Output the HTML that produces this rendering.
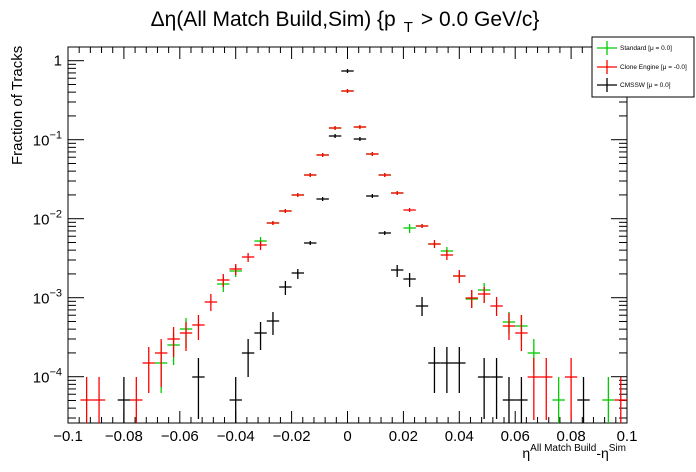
<!DOCTYPE html>
<html><head><meta charset="utf-8"><style>
body{margin:0;background:#fff;}
svg{display:block;font-family:"Liberation Sans",sans-serif;}
</style></head><body>
<svg id="s" width="696" height="472" viewBox="0 0 696 472" xmlns="http://www.w3.org/2000/svg">
<rect width="696" height="472" fill="#fff"/>
<text x="345" y="26" font-size="21" text-anchor="middle">Δη(All Match Build,Sim) {p<tspan font-size="15" dy="6" dx="8">T</tspan><tspan dy="-6" dx="8">&gt; 0.0 GeV/c}</tspan></text>
<text transform="translate(22,165) rotate(-90)" font-size="15">Fraction of Tracks</text>
<text x="626" y="458" font-size="14" text-anchor="end">η<tspan font-size="10" dy="-7">All Match Build</tspan><tspan dy="7">-η</tspan><tspan font-size="10" dy="-7">Sim</tspan></text>
<g id="ax"></g>
<g id="data" stroke-width="1.3"></g>
<rect x="592" y="37" width="102" height="60" fill="#fff" stroke="#000"/>
<g font-size="6.5">
<line x1="597" y1="48" x2="617" y2="48" stroke="#00cc00" stroke-width="1.3"/><line x1="607" y1="41" x2="607" y2="55" stroke="#00cc00" stroke-width="1.3"/>
<text x="620" y="50">Standard  [μ = 0.0]</text>
<line x1="597" y1="67" x2="617" y2="67" stroke="#ff0000" stroke-width="1.3"/><line x1="607" y1="60" x2="607" y2="74" stroke="#ff0000" stroke-width="1.3"/>
<text x="620" y="69">Clone Engine  [μ = -0.0]</text>
<line x1="597" y1="85" x2="617" y2="85" stroke="#000" stroke-width="1.3"/><line x1="607" y1="78" x2="607" y2="92" stroke="#000" stroke-width="1.3"/>
<text x="620" y="87">CMSSW  [μ = 0.0]</text>
</g>
</svg>
<script>
const NS="http://www.w3.org/2000/svg";
const L=68,R=627,T=47,B=423;
function el(p,n,a,t){const e=document.createElementNS(NS,n);for(const k in a)e.setAttribute(k,a[k]);if(t!==undefined)e.textContent=t;p.appendChild(e);return e;}
const ax=document.getElementById('ax');
el(ax,'rect',{x:L,y:T,width:R-L,height:B-T,fill:'none',stroke:'#000','stroke-width':1});
const xp=v=>L+(v+0.1)/0.2*(R-L);
for(let i=0;i<=50;i++){const v=-0.1+i*0.004;const x=xp(v);const maj=i%5==0;const len=maj?12:6;
el(ax,'line',{x1:x,y1:B,x2:x,y2:B-len,stroke:'#000'});el(ax,'line',{x1:x,y1:T,x2:x,y2:T+len,stroke:'#000'});
if(maj){let s=(Math.round(v*100)/100);let txt=s==0?'0':(s<0?'−':'')+Math.abs(s).toFixed(2);if(Math.abs(s)==0.1)txt=(s<0?'−':'')+'0.1';el(ax,'text',{x:x,y:441,'font-size':15,'text-anchor':'middle'},txt);}}
const yp=v=>60.7-79*Math.log10(v);
for(let d=-5;d<=0;d++){for(let m=1;m<=9;m++){const v=m*Math.pow(10,d);const y=yp(v);if(y<T||y>B)continue;const len=m==1?16:8;
el(ax,'line',{x1:L,y1:y,x2:L+len,y2:y,stroke:'#000'});el(ax,'line',{x1:R,y1:y,x2:R-len,y2:y,stroke:'#000'});
if(m==1){if(d==0)el(ax,'text',{x:62,y:y+5,'font-size':15,'text-anchor':'end'},'1');else{const t=el(ax,'text',{x:62,y:y+6,'font-size':15,'text-anchor':'end'},'10');el(t,'tspan',{dy:-7,'font-size':11},String(d).replace('-','−'));}}}}
const bx=k=>L+(k+0.5)*(R-L)/45, hw=6.2;
const data=document.getElementById('data');
function pts(col,arr){for(const p of arr){const [k,y,e1,e2]=p;const x=bx(k);
el(data,'line',{x1:x-hw,y1:y,x2:x+hw,y2:y,stroke:col});
el(data,'line',{x1:x,y1:Math.max(T,e1!==undefined?e1:y-2),x2:x,y2:Math.min(B,e2!==undefined?e2:y+2),stroke:col});}}
const red=[[1,400,377,430],[2,400,377,430],[5,400,377,430],[6,363,347,393],[7,353,339,387],[8,339,327,357],[9,333,322,351],[10,325,315,340],[11,302,294,311],[12,280,274,287],[13,269,264,275],[14,257,253,262],[15,245,241,250],[16,223],[17,211],[18,195],[19,175],[20,155],[21,128],[22,91],[23,127],[24,154],[25,175],[26,193],[27,210],[28,226],[29,244,240,248],[30,255,250,260],[31,276,270,283],[32,298,290,308],[33,294,287,303],[34,306,297,316],[35,326,313,340],[36,333,315,351],[37,377,358,420],[38,377,358,420],[40,377,358,420],[44,400,377,430]];
const green=[[7,363,342,393],[8,345,333,365],[9,329,318,348],[12,284,277,292],[13,271,265,277],[15,241,237,246],[16,223],[17,211],[18,195],[19,175],[20,155],[21,128],[22,91],[23,127],[24,154],[25,175],[26,193],[27,228,224,233],[28,226],[29,244],[30,251,247,256],[31,276],[32,299,290,308],[33,290,283,303],[35,322,312,333],[36,326,315,340],[37,353,339,373],[39,400,377,430],[43,400,377,430]];
const blk=[[4,400,377,430],[10,377,358,419],[13,400,377,430],[14,353,339,377],[15,333,322,350],[16,321,312,335],[17,287,281,295],[18,273,269,279],[19,243],[20,199],[21,136],[22,71],[23,139],[24,196],[25,233],[26,270,265,277],[27,279,273,287],[28,306,297,316],[29,363,347,393],[30,363,347,393],[31,363,347,393],[33,377,358,419],[34,377,358,419],[35,400,377,430],[36,400,377,430],[41,400,377,430]];
pts('#00cc00',green);pts('#ff0000',red);pts('#000',blk);
</script>
</body></html>
